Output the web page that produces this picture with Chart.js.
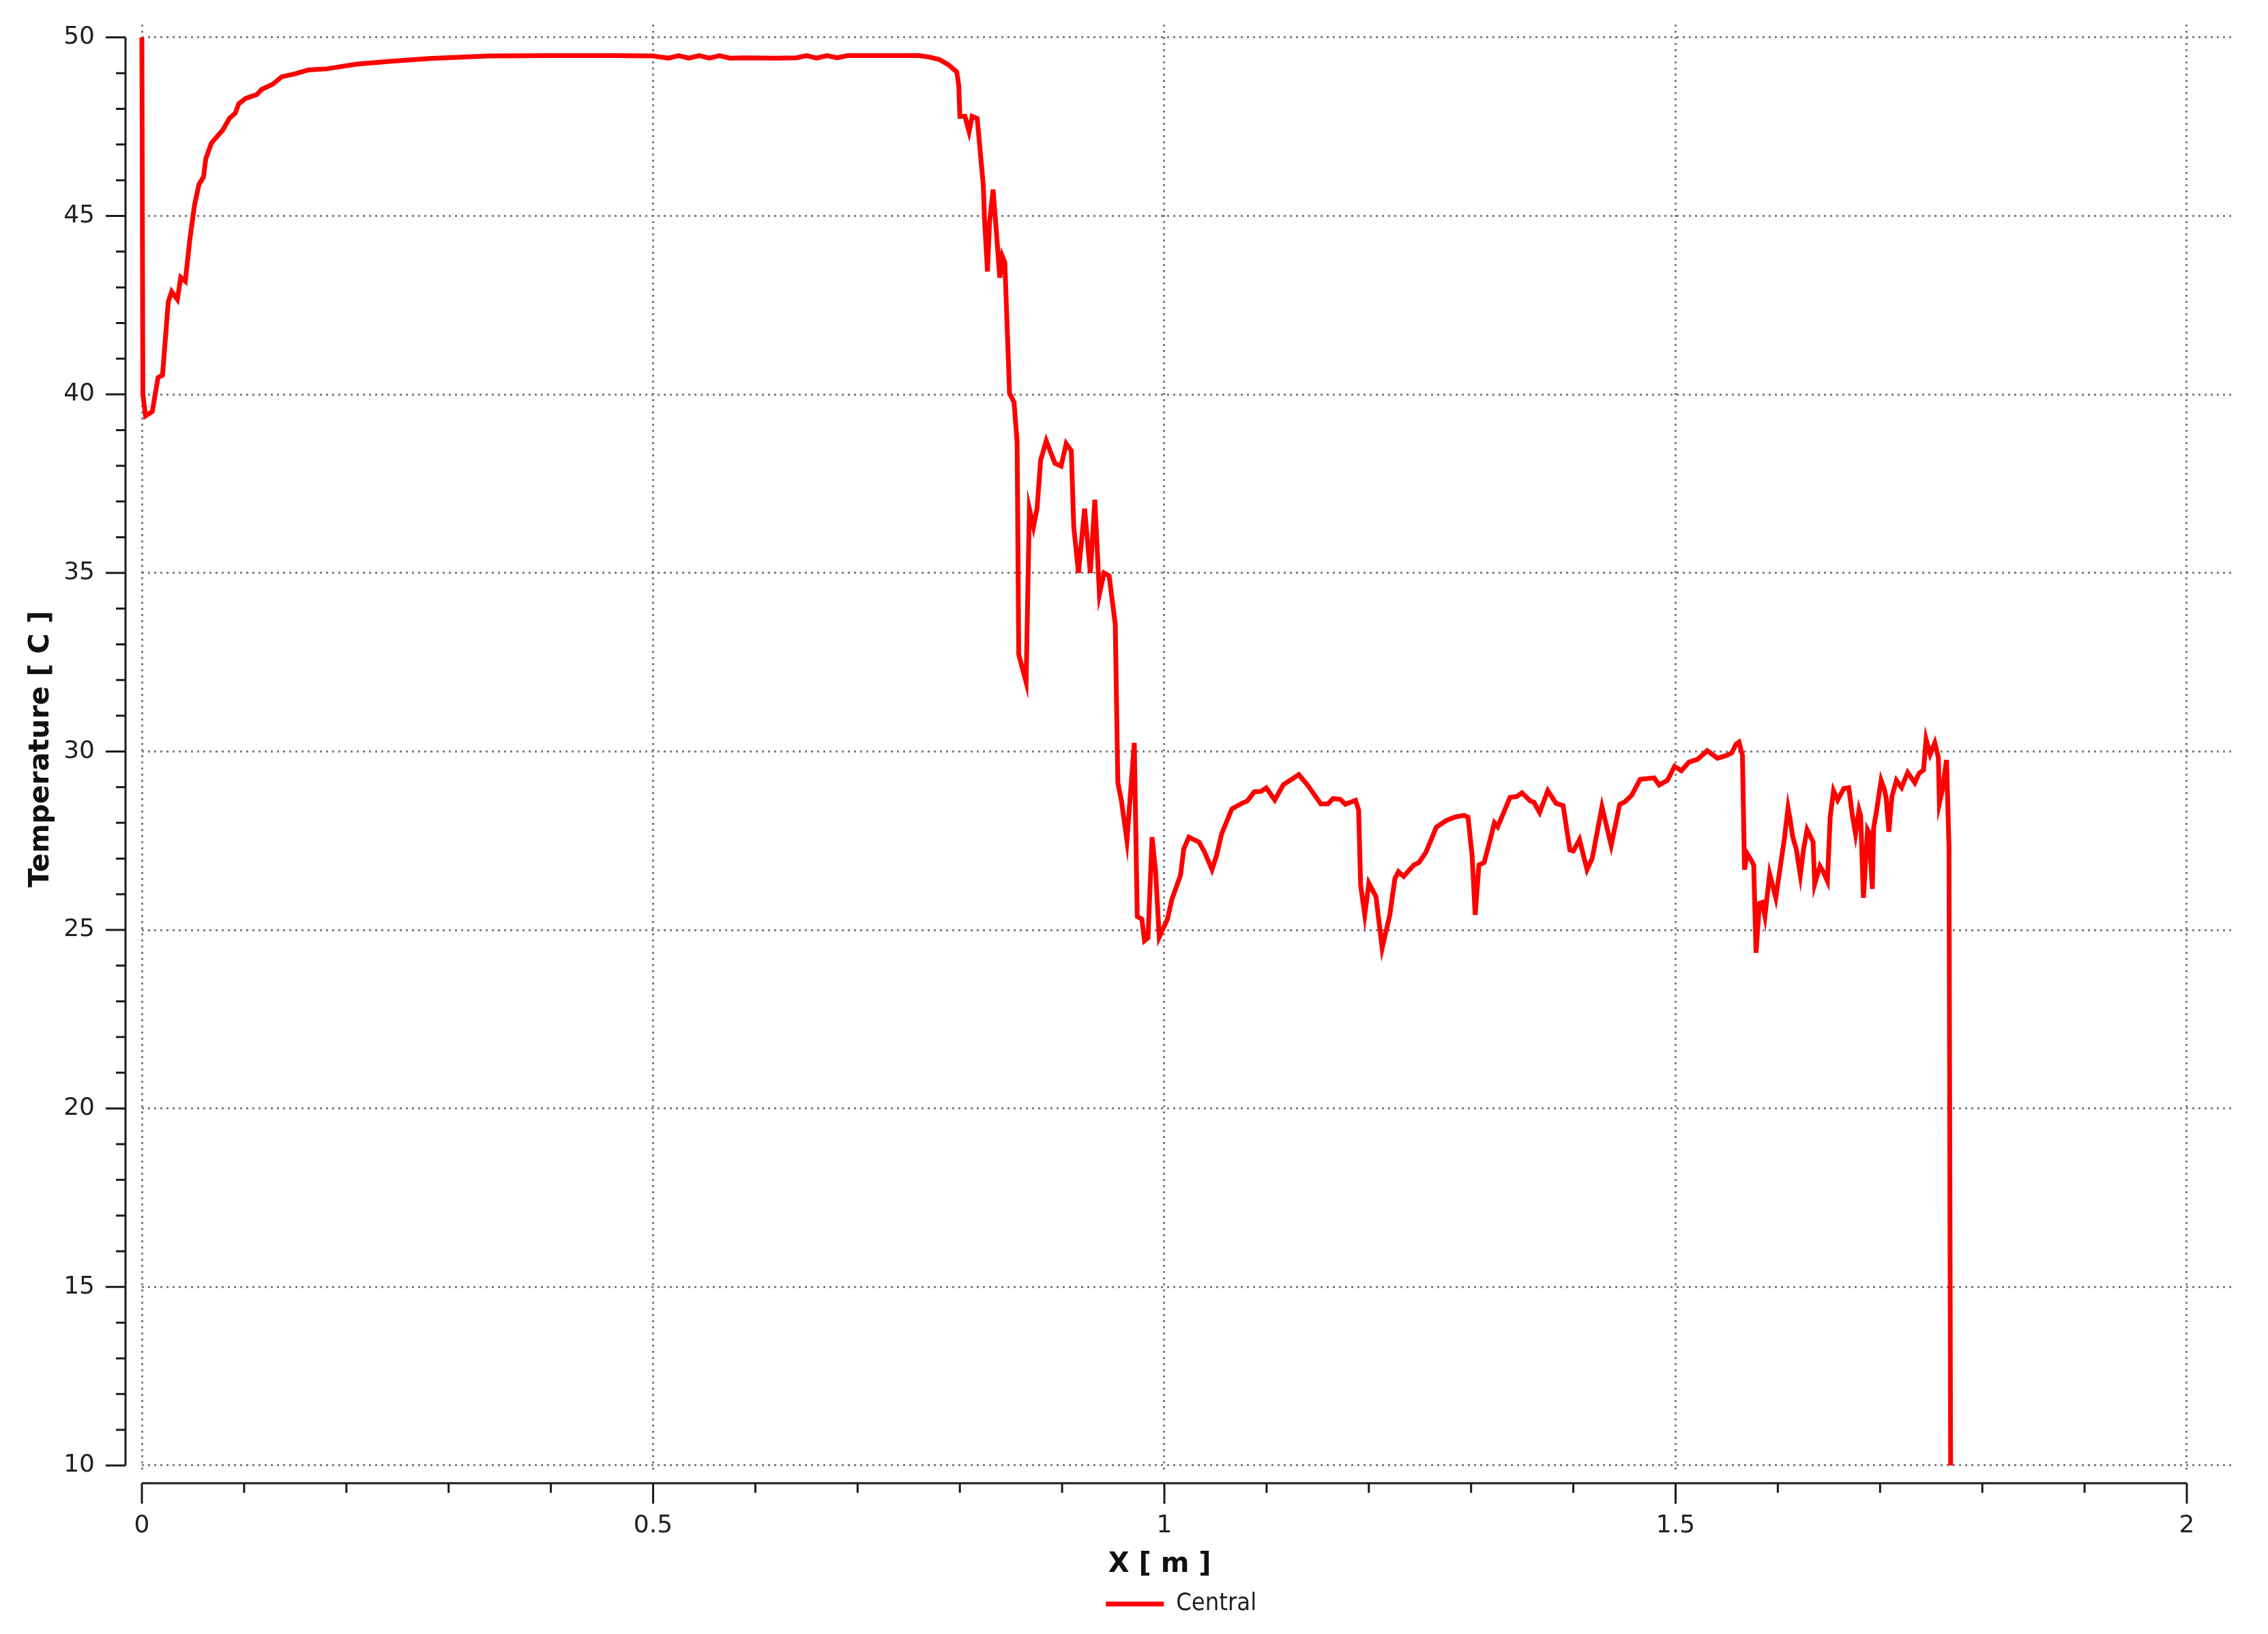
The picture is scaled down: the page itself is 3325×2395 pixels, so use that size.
<!DOCTYPE html>
<html>
<head>
<meta charset="utf-8">
<script src="https://cdn.jsdelivr.net/npm/chart.js@4.4.1/dist/chart.umd.min.js"></script>
<style>
  html, body { margin: 0; padding: 0; background: #fff; }
  canvas { display: block; }
</style>
</head>
<body>
<canvas id="tempChart" width="3325" height="2395"></canvas>
<script>
// X position along the line [m]
var xPos = [
  0, 0.001, 0.0036, 0.0102, 0.0158, 0.0202, 0.0258, 0.0291, 0.0347, 0.038,
  0.0425, 0.0469, 0.0514, 0.0558, 0.0603, 0.0625, 0.068, 0.0792, 0.0858, 0.0914,
  0.0947, 0.1014, 0.1125, 0.117, 0.128, 0.137, 0.150, 0.163, 0.181, 0.21,
  0.242, 0.281, 0.34, 0.40, 0.46, 0.50, 0.515, 0.525, 0.535, 0.545,
  0.555, 0.565, 0.575, 0.59, 0.62, 0.64, 0.65, 0.66, 0.67, 0.68,
  0.69, 0.72, 0.76, 0.77, 0.78, 0.789, 0.797, 0.799, 0.80, 0.805,
  0.809, 0.812, 0.817, 0.823, 0.824, 0.827, 0.829, 0.8325, 0.836, 0.839,
  0.8415, 0.844, 0.8486, 0.853, 0.856, 0.8576, 0.8648, 0.868, 0.872, 0.8755,
  0.879, 0.8845, 0.893, 0.899, 0.904, 0.909, 0.9114, 0.916, 0.922, 0.9276,
  0.932, 0.9365, 0.941, 0.946, 0.952, 0.9545, 0.958, 0.9634, 0.9706, 0.9735,
  0.978, 0.9806, 0.984, 0.988, 0.9914, 0.995, 1.003, 1.0074, 1.0158, 1.019,
  1.024, 1.034, 1.039, 1.0466, 1.051, 1.056, 1.066, 1.076, 1.081, 1.088,
  1.0946, 1.0997, 1.108, 1.1164, 1.123, 1.1315, 1.14, 1.153, 1.16, 1.165,
  1.172, 1.177, 1.187, 1.19, 1.192, 1.196, 1.2, 1.207, 1.213, 1.2205,
  1.2255, 1.229, 1.234, 1.244, 1.249, 1.2557, 1.266, 1.276, 1.284, 1.293,
  1.297, 1.301, 1.304, 1.3077, 1.3128, 1.318, 1.3228, 1.326, 1.331, 1.338,
  1.345, 1.3497, 1.358, 1.3614, 1.367, 1.375, 1.383, 1.39, 1.3966, 1.4,
  1.406, 1.4134, 1.4185, 1.428, 1.437, 1.4453, 1.45, 1.457, 1.4654, 1.479,
  1.484, 1.492, 1.499, 1.5056, 1.513, 1.5216, 1.531, 1.541, 1.55, 1.555,
  1.559, 1.562, 1.5654, 1.5674, 1.57, 1.574, 1.5764, 1.5787, 1.582, 1.5847,
  1.5874, 1.592, 1.598, 1.603, 1.6063, 1.61, 1.612, 1.6146, 1.618, 1.622,
  1.6252, 1.6286, 1.6345, 1.636, 1.6412, 1.6445, 1.6485, 1.6512, 1.6545, 1.6585,
  1.6645, 1.6694, 1.6728, 1.676, 1.6794, 1.681, 1.6837, 1.6877, 1.6894, 1.6924,
  1.6937, 1.697, 1.701, 1.7043, 1.706, 1.7086, 1.7116, 1.716, 1.721, 1.727,
  1.734, 1.738, 1.7425, 1.745, 1.749, 1.7535, 1.757, 1.758, 1.761, 1.765,
  1.7674, 1.769
];

// Temperature [C] on the "Central" line
var tempC = [
  50, 40.0, 39.4, 39.52, 40.47, 40.54, 42.59, 42.88, 42.66, 43.28,
  43.17, 44.34, 45.29, 45.88, 46.09, 46.6, 47.04, 47.41, 47.74, 47.88,
  48.14, 48.29, 48.4, 48.54, 48.69, 48.9, 48.98, 49.09, 49.12, 49.25,
  49.33, 49.41, 49.48, 49.49, 49.49, 49.48, 49.42, 49.49, 49.42, 49.49,
  49.42, 49.49, 49.42, 49.43, 49.42, 49.43, 49.49, 49.42, 49.49, 49.43,
  49.49, 49.49, 49.49, 49.45, 49.38, 49.23, 49.03, 48.64, 47.79, 47.79,
  47.36, 47.79, 47.73, 45.83, 44.97, 43.44, 44.8, 45.74, 44.46, 43.27,
  43.87, 43.7, 40.03, 39.78, 38.67, 32.71, 31.94, 36.8, 36.29, 36.8,
  38.16, 38.7, 38.07, 37.99, 38.62, 38.42, 36.29, 35.0, 36.8, 35.0,
  37.05, 34.41, 35.0, 34.92, 33.56, 29.13, 28.62, 27.51, 30.24, 25.38,
  25.3, 24.7, 24.78, 27.6, 26.66, 24.8, 25.3, 25.86, 26.53, 27.27,
  27.6, 27.46, 27.2, 26.69, 27.08, 27.69, 28.39, 28.55, 28.61, 28.87,
  28.88, 28.98, 28.64, 29.07, 29.19, 29.35, 29.06, 28.53, 28.53, 28.68,
  28.66, 28.52, 28.63, 28.36, 26.25, 25.42, 26.31, 25.93, 24.49, 25.42,
  26.44, 26.63, 26.5, 26.82, 26.89, 27.17, 27.88, 28.07, 28.16, 28.21,
  28.16, 27.08, 25.42, 26.82, 26.89, 27.46, 28.0, 27.89, 28.23, 28.71,
  28.74, 28.84, 28.61, 28.58, 28.29, 28.9, 28.55, 28.48, 27.24, 27.21,
  27.53, 26.69, 27.01, 28.45, 27.37, 28.52, 28.58, 28.77, 29.22, 29.26,
  29.06, 29.19, 29.58, 29.46, 29.7, 29.78, 30.02, 29.81, 29.89, 29.96,
  30.2, 30.26, 29.89, 26.69, 27.14, 26.95, 26.82, 24.36, 25.74, 25.77,
  25.38, 26.57, 25.9, 26.89, 27.53, 28.42, 28.1, 27.6, 27.27, 26.53,
  27.27, 27.81, 27.46, 26.28, 26.79, 26.63, 26.37, 28.16, 28.9, 28.64,
  28.96, 28.98, 28.23, 27.69, 28.36, 28.2, 25.9, 27.81, 27.72, 26.15,
  27.85, 28.42, 29.19, 28.93, 28.68, 27.75, 28.74, 29.19, 28.99, 29.41,
  29.12, 29.38, 29.48, 30.34, 29.92, 30.24, 29.83, 28.55, 28.93, 29.76,
  27.33, 10
];

var xTickValues = [0, 0.5, 1, 1.5, 2];
var xTickLabels = ['0', '0.5', '1', '1.5', '2'];
var yTickValues = [10, 15, 20, 25, 30, 35, 40, 45, 50];
var yTickLabels = ['10', '15', '20', '25', '30', '35', '40', '45', '50'];

// axes are drawn a little away from the plot, with major + minor ticks
var offsetAxes = {
  id: 'offsetAxes',
  afterDraw: function(chart) {
    var ctx = chart.ctx;
    var x = chart.scales.x, y = chart.scales.y;
    var ax = chart.chartArea.left - 24;
    var ay = y.getPixelForValue(10) + 26;
    ctx.save();
    ctx.strokeStyle = '#1a1a1a';
    ctx.lineWidth = 3;
    ctx.beginPath();
    ctx.moveTo(ax, y.getPixelForValue(50));
    ctx.lineTo(ax, y.getPixelForValue(10));
    for (var v = 10; v <= 50; v++) {
      var py = y.getPixelForValue(v);
      ctx.moveTo(ax, py);
      ctx.lineTo(ax - (v % 5 === 0 ? 29 : 14), py);
    }
    ctx.moveTo(x.getPixelForValue(0), ay);
    ctx.lineTo(x.getPixelForValue(2), ay);
    for (var i = 0; i <= 20; i++) {
      var px = x.getPixelForValue(i / 10);
      ctx.moveTo(px, ay);
      ctx.lineTo(px, ay + (i % 5 === 0 ? 30 : 14));
    }
    ctx.stroke();
    ctx.restore();
  }
};

var borderStyle = { display: false, dash: [3, 6] };

var ctx = document.getElementById('tempChart').getContext('2d');
var chart = new Chart(ctx, {
  type: 'line',
  data: {
    datasets: [{
      label: 'Central  ',
      data: xPos.map(function(v, i) { return { x: v, y: tempC[i] }; }),
      borderColor: '#ff0000',
      backgroundColor: '#ff0000',
      borderWidth: 7,
      pointRadius: 0,
      tension: 0,
      clip: false
    }]
  },
  options: {
    responsive: false,
    animation: false,
    layout: { padding: { top: 36, right: 49, bottom: 16, left: 0 } },
    plugins: {
      legend: {
        position: 'bottom',
        fullSize: false,
        labels: {
          usePointStyle: true,
          pointStyle: 'line',
          pointStyleWidth: 85,
          padding: 10,
          color: '#222',
          font: { family: "'DejaVu Sans Condensed', 'DejaVu Sans'", size: 36 }
        }
      },
      tooltip: { enabled: false }
    },
    scales: {
      x: {
        type: 'linear',
        min: 0,
        max: 2.0467,
        afterBuildTicks: function(s) { s.ticks = xTickValues.map(function(v) { return { value: v }; }); },
        afterFit: function(s) { s.height = 163; },
        grid: { color: '#7f7f7f', lineWidth: 3, drawTicks: true, tickLength: 52, tickColor: 'rgba(0,0,0,0)' },
        border: borderStyle,
        ticks: {
          padding: 3,
          color: '#222',
          font: { family: "'DejaVu Sans'", size: 36 },
          callback: function(v, i) { return xTickLabels[i]; }
        },
        title: {
          display: true,
          text: 'X [ m ]      ',
          color: '#111',
          padding: { top: 0, bottom: 5 },
          font: { family: "'DejaVu Sans'", size: 40, weight: 'bold' }
        }
      },
      y: {
        min: 9.77,
        max: 50.36,
        afterBuildTicks: function(s) { s.ticks = yTickValues.map(function(v) { return { value: v }; }); },
        afterFit: function(s) { s.width = 208; },
        grid: { color: '#7f7f7f', lineWidth: 3, drawTicks: true, tickLength: 66, tickColor: 'rgba(0,0,0,0)' },
        border: borderStyle,
        ticks: {
          padding: 3,
          color: '#222',
          font: { family: "'DejaVu Sans'", size: 36 },
          callback: function(v, i) { return yTickLabels[i]; }
        },
        title: {
          display: true,
          text: 'Temperature [ C ]',
          color: '#111',
          padding: { top: 36, bottom: 0 },
          font: { family: "'DejaVu Sans'", size: 41, weight: 'bold' }
        }
      }
    }
  },
  plugins: [offsetAxes]
});
</script>
</body>
</html>
